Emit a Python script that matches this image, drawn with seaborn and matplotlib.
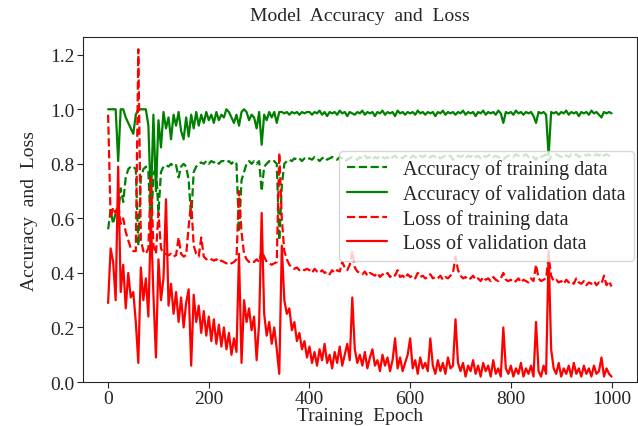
import numpy as np
import seaborn as sns
import matplotlib
matplotlib.use("Agg")
import matplotlib.pyplot as plt

# one value every 5 epochs
epochs = np.arange(0, 1001, 5)

train_acc = [
    0.56, 0.63, 0.58, 0.62, 0.61, 0.71, 0.66, 0.75, 0.78, 0.79,
    0.79, 0.78, 0.50, 0.75, 0.78, 0.79, 0.77, 0.55, 0.76, 0.79,
    0.62, 0.77, 0.79, 0.795, 0.79, 0.80, 0.79, 0.795, 0.75, 0.79,
    0.80, 0.79, 0.74, 0.60, 0.77, 0.79, 0.80, 0.805, 0.80, 0.81,
    0.80, 0.81, 0.805, 0.81, 0.80, 0.81, 0.81, 0.805, 0.81, 0.80,
    0.81, 0.80, 0.55, 0.74, 0.77, 0.80, 0.81, 0.80, 0.81, 0.80,
    0.81, 0.70, 0.79, 0.80, 0.81, 0.805, 0.81, 0.80, 0.52, 0.72,
    0.80, 0.81, 0.815, 0.81, 0.82, 0.815, 0.82, 0.81, 0.82, 0.815,
    0.82, 0.815, 0.825, 0.82, 0.81, 0.82, 0.825, 0.815, 0.82, 0.825,
    0.82, 0.815, 0.825, 0.82, 0.81, 0.815, 0.82, 0.825, 0.82, 0.815,
    0.825, 0.82, 0.83, 0.82, 0.825, 0.815, 0.825, 0.82, 0.83, 0.825,
    0.82, 0.825, 0.815, 0.825, 0.83, 0.82, 0.825, 0.82, 0.83, 0.825,
    0.82, 0.83, 0.825, 0.82, 0.83, 0.825, 0.83, 0.82, 0.825, 0.83,
    0.825, 0.83, 0.82, 0.825, 0.83, 0.825, 0.83, 0.815, 0.82, 0.83,
    0.825, 0.83, 0.82, 0.83, 0.825, 0.835, 0.825, 0.83, 0.82, 0.83,
    0.825, 0.83, 0.835, 0.825, 0.83, 0.825, 0.82, 0.815, 0.825, 0.83,
    0.83, 0.825, 0.835, 0.83, 0.825, 0.83, 0.835, 0.825, 0.83, 0.825,
    0.815, 0.83, 0.825, 0.83, 0.835, 0.81, 0.825, 0.83, 0.835, 0.83,
    0.825, 0.835, 0.83, 0.825, 0.835, 0.83, 0.835, 0.825, 0.83, 0.835,
    0.83, 0.835, 0.825, 0.83, 0.835, 0.83, 0.84, 0.83, 0.835, 0.83,
    0.835,
]

val_acc = [
    1.0, 1.0, 1.0, 1.0, 0.81, 1.0, 1.0, 0.97, 0.95, 0.93,
    0.91, 0.98, 1.0, 1.0, 1.0, 1.0, 0.94, 0.66, 0.98, 0.70,
    0.96, 0.86, 0.99, 0.93, 0.97, 0.89, 0.98, 0.94, 0.99, 0.92,
    0.89, 0.97, 0.90, 0.98, 0.93, 0.99, 0.94, 0.98, 0.95, 0.99,
    0.96, 0.98, 0.95, 0.99, 0.96, 0.98, 0.97, 1.0, 0.99, 0.97,
    0.95, 0.98, 0.94, 0.99, 1.0, 0.99, 0.96, 0.98, 0.97, 0.93,
    0.99, 0.87, 0.98, 0.96, 0.99, 0.97, 0.99, 0.95, 0.99, 0.99,
    0.985, 0.99, 0.98, 0.99, 0.985, 0.99, 0.98, 0.99, 0.985, 0.99,
    0.99, 0.98, 0.99, 0.985, 0.995, 0.98, 0.99, 0.975, 0.99, 0.985,
    0.99, 0.98, 0.995, 0.985, 0.99, 0.975, 0.99, 0.985, 0.98, 0.99,
    0.985, 0.995, 0.98, 0.99, 0.985, 0.99, 0.975, 0.99, 0.985, 0.995,
    0.98, 0.99, 0.985, 0.99, 0.975, 0.995, 0.985, 0.99, 0.98, 0.99,
    0.985, 0.99, 0.98, 0.995, 0.985, 0.99, 0.98, 0.99, 0.985, 0.99,
    0.975, 0.99, 0.985, 0.995, 0.98, 0.99, 0.985, 0.99, 0.98, 0.99,
    0.985, 0.995, 0.98, 0.99, 0.985, 0.99, 0.975, 0.99, 0.985, 0.995,
    0.98, 0.99, 0.985, 0.99, 0.98, 0.995, 0.985, 0.95, 0.99, 0.985,
    0.99, 0.98, 0.995, 0.985, 0.99, 0.98, 0.99, 0.985, 0.99, 0.975,
    0.95, 0.99, 0.985, 0.99, 0.98, 0.83, 0.99, 0.985, 0.99, 0.98,
    0.99, 0.985, 0.995, 0.98, 0.99, 0.985, 0.99, 0.975, 0.99, 0.985,
    0.99, 0.98, 0.995, 0.985, 0.99, 0.98, 0.97, 0.99, 0.985, 0.99,
    0.985,
]

train_loss = [
    0.98, 0.60, 0.64, 0.62, 0.65, 0.58, 0.60, 0.55, 0.52, 0.49,
    0.48, 0.48, 1.22, 0.52, 0.48, 0.47, 0.49, 0.75, 0.50, 0.47,
    0.62, 0.49, 0.47, 0.47, 0.465, 0.47, 0.46, 0.465, 0.53, 0.47,
    0.46, 0.465, 0.57, 0.66, 0.50, 0.47, 0.46, 0.53, 0.46, 0.45,
    0.455, 0.45, 0.445, 0.45, 0.44, 0.445, 0.44, 0.435, 0.44, 0.435,
    0.44, 0.45, 0.70, 0.55, 0.47, 0.45, 0.44, 0.445, 0.44, 0.45,
    0.44, 0.48, 0.46, 0.44, 0.435, 0.43, 0.435, 0.44, 0.84, 0.60,
    0.48, 0.45, 0.43, 0.42, 0.415, 0.42, 0.41, 0.415, 0.41, 0.415,
    0.41, 0.40, 0.415, 0.405, 0.40, 0.41, 0.40, 0.405, 0.395, 0.41,
    0.40, 0.41, 0.405, 0.44, 0.42, 0.41, 0.43, 0.48, 0.42, 0.405,
    0.40, 0.395, 0.405, 0.39, 0.40, 0.395, 0.39, 0.40, 0.385, 0.395,
    0.39, 0.40, 0.385, 0.395, 0.39, 0.41, 0.385, 0.39, 0.38, 0.395,
    0.385, 0.39, 0.38, 0.40, 0.385, 0.39, 0.38, 0.385, 0.395, 0.38,
    0.385, 0.38, 0.39, 0.375, 0.385, 0.38, 0.39, 0.40, 0.46, 0.41,
    0.39, 0.38, 0.385, 0.375, 0.38, 0.39, 0.375, 0.38, 0.37, 0.385,
    0.375, 0.38, 0.37, 0.385, 0.375, 0.37, 0.38, 0.40, 0.375, 0.37,
    0.375, 0.365, 0.37, 0.38, 0.365, 0.375, 0.37, 0.365, 0.38, 0.37,
    0.43, 0.38, 0.37, 0.375, 0.38, 0.46, 0.39, 0.37, 0.375, 0.365,
    0.37, 0.36, 0.375, 0.365, 0.37, 0.36, 0.38, 0.365, 0.36, 0.37,
    0.355, 0.365, 0.36, 0.37, 0.355, 0.365, 0.36, 0.39, 0.355, 0.37,
    0.35,
]

val_loss = [
    0.29, 0.49, 0.44, 0.30, 0.79, 0.33, 0.43, 0.27, 0.40, 0.31,
    0.33, 0.22, 0.07, 0.42, 0.30, 0.38, 0.24, 0.60, 0.32, 0.09,
    0.45, 0.30, 0.38, 0.67, 0.28, 0.36, 0.25, 0.33, 0.22, 0.31,
    0.20, 0.29, 0.34, 0.06, 0.32, 0.22, 0.28, 0.18, 0.26, 0.17,
    0.24, 0.15, 0.23, 0.14, 0.21, 0.13, 0.20, 0.12, 0.18, 0.10,
    0.16, 0.11, 0.47, 0.07, 0.30, 0.22, 0.27, 0.19, 0.24, 0.08,
    0.22, 0.62, 0.25, 0.17, 0.22, 0.14, 0.20, 0.12, 0.03, 0.50,
    0.30, 0.25, 0.27, 0.19, 0.22, 0.15, 0.18, 0.12, 0.15, 0.09,
    0.13, 0.07, 0.11, 0.06, 0.12, 0.08, 0.14, 0.07, 0.10, 0.05,
    0.11, 0.07, 0.13, 0.06, 0.10, 0.14, 0.08, 0.31, 0.12, 0.07,
    0.10, 0.06, 0.11, 0.05, 0.09, 0.12, 0.06, 0.08, 0.04, 0.10,
    0.06, 0.09, 0.04, 0.08, 0.16, 0.05, 0.09, 0.04, 0.07, 0.10,
    0.16, 0.05, 0.08, 0.03, 0.09, 0.05, 0.07, 0.04, 0.16, 0.06,
    0.03, 0.08, 0.04, 0.07, 0.03, 0.09, 0.05, 0.06, 0.23, 0.07,
    0.04, 0.07, 0.02, 0.06, 0.04, 0.08, 0.03, 0.06, 0.02, 0.07,
    0.04, 0.06, 0.02, 0.08, 0.03, 0.05, 0.02, 0.20, 0.05, 0.03,
    0.06, 0.02, 0.05, 0.03, 0.07, 0.02, 0.05, 0.03, 0.06, 0.02,
    0.22, 0.04, 0.02, 0.06, 0.03, 0.48, 0.12, 0.05, 0.03, 0.07,
    0.02, 0.05, 0.03, 0.06, 0.02, 0.07, 0.03, 0.05, 0.02, 0.06,
    0.03, 0.05, 0.02, 0.06, 0.03, 0.04, 0.09, 0.02, 0.05, 0.03,
    0.02,
]

labels = ['Accuracy of training data', 'Accuracy of validation data',
          'Loss of training data', 'Loss of validation data']

sns.set_style("ticks")
plt.rcParams['font.family'] = ['Liberation Serif', 'DejaVu Serif']

fig = plt.figure(figsize=(6.38, 4.27), dpi=100)
ax = fig.add_axes([0.130, 0.103, 0.868, 0.808])

series = [(train_acc, 'green', '--'), (val_acc, 'green', '-'),
          (train_loss, 'red', '--'), (val_loss, 'red', '-')]
for (vals, col, ls), lab in zip(series, labels):
    sns.lineplot(x=epochs, y=vals, color=col, linestyle=ls, linewidth=1.6,
                 label=lab, ax=ax)

ax.set_xlim(-50, 1050)
ax.set_ylim(0, 1.265)
ax.set_xticks([0, 200, 400, 600, 800, 1000])
ax.set_yticks([0.0, 0.2, 0.4, 0.6, 0.8, 1.0, 1.2])
ax.set_yticklabels(['0.0', '0.2', '0.4', '0.6', '0.8', '1.0', '1.2'])
ax.tick_params(labelsize=14, direction='out', length=4, pad=2)
for side in ['top', 'right']:
    ax.spines[side].set_visible(True)
ax.tick_params(top=False, right=False)

ax.set_title('Model  Accuracy  and  Loss', fontsize=14, pad=12)
ax.set_xlabel('Training  Epoch', fontsize=14, labelpad=0)
ax.set_ylabel('Accuracy  and  Loss', fontsize=14, labelpad=9)

ax.legend(loc='upper right', bbox_to_anchor=(0.995, 0.67), fontsize=14.5,
          labelspacing=0.25, framealpha=0.8, handlelength=2.0,
          borderaxespad=0)

fig.savefig('out.png', dpi=100)
